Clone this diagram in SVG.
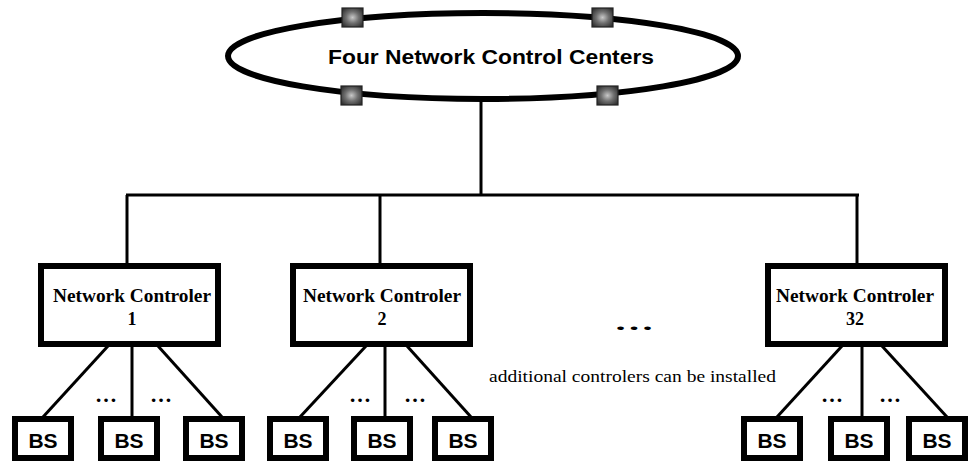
<svg xmlns="http://www.w3.org/2000/svg" width="968" height="461" viewBox="0 0 968 461">
<defs>
<radialGradient id="sq" cx="50%" cy="50%" r="60%">
<stop offset="0" stop-color="#c8c8c8"/>
<stop offset="0.5" stop-color="#707070"/>
<stop offset="1" stop-color="#333333"/>
</radialGradient>
</defs>
<style>
.thick{fill:#fff;stroke:#000;stroke-width:6}
.ln{stroke:#000;stroke-width:3;fill:none}
.port{fill:url(#sq);stroke:#222;stroke-width:1.2}
.title{font-family:"Liberation Sans",Arial,sans-serif;font-weight:bold;font-size:20px;fill:#000}
.nc{font-family:"Liberation Serif","Times New Roman",serif;font-weight:bold;font-size:18px;fill:#000}
.bs{font-family:"Liberation Sans",Arial,sans-serif;font-weight:bold;font-size:21px;fill:#000}
.dots{font-family:"Liberation Serif","Times New Roman",serif;font-weight:bold;font-size:22px;fill:#000}
.note{font-family:"Liberation Serif","Times New Roman",serif;font-size:16px;fill:#000}
</style>
<rect width="968" height="461" fill="#fff"/>

<g id="connectors">
<line class="ln" x1="481" y1="99" x2="481" y2="196"/>
<line class="ln" x1="126" y1="195" x2="859" y2="195"/>
<line class="ln" x1="127" y1="195" x2="127" y2="264"/>
<line class="ln" x1="380" y1="195" x2="380" y2="264"/>
<line class="ln" x1="857" y1="195" x2="857" y2="264"/>
<line class="ln" x1="108" y1="346" x2="43" y2="417"/>
<line class="ln" x1="132" y1="346" x2="132" y2="417"/>
<line class="ln" x1="158" y1="346" x2="222" y2="417"/>
<line class="ln" x1="366" y1="346" x2="300" y2="417"/>
<line class="ln" x1="385" y1="346" x2="385" y2="417"/>
<line class="ln" x1="407" y1="346" x2="471" y2="417"/>
<line class="ln" x1="842" y1="346" x2="777" y2="417"/>
<line class="ln" x1="862" y1="346" x2="862" y2="417"/>
<line class="ln" x1="882" y1="346" x2="947" y2="417"/>
</g>

<g id="ncc">
<ellipse cx="483" cy="56" rx="255" ry="43" fill="none" stroke="#000" stroke-width="6"/>
<rect class="port" x="342" y="8" width="21" height="19"/>
<rect class="port" x="592" y="8" width="21" height="19"/>
<rect class="port" x="341" y="86" width="21" height="19"/>
<rect class="port" x="597" y="86" width="21" height="19"/>
<text class="title" x="491" y="64" text-anchor="middle" textLength="326" lengthAdjust="spacingAndGlyphs">Four Network Control Centers</text>
</g>

<g id="nc1">
<rect class="thick" x="41" y="266" width="177" height="78"/>
<text class="nc" x="132" y="302" text-anchor="middle" textLength="158" lengthAdjust="spacingAndGlyphs">Network Controler</text>
<text class="nc" x="132" y="325" text-anchor="middle">1</text>
</g>
<g id="nc2">
<rect class="thick" x="293" y="266" width="177" height="78"/>
<text class="nc" x="382" y="302" text-anchor="middle" textLength="158" lengthAdjust="spacingAndGlyphs">Network Controler</text>
<text class="nc" x="382" y="325" text-anchor="middle">2</text>
</g>
<g id="nc32">
<rect class="thick" x="768" y="266" width="177" height="78"/>
<text class="nc" x="855" y="302" text-anchor="middle" textLength="158" lengthAdjust="spacingAndGlyphs">Network Controler</text>
<text class="nc" x="855" y="325" text-anchor="middle">32</text>
</g>

<g id="bs1a"><rect class="thick" x="15" y="419" width="56" height="39"/><text class="bs" x="43" y="448" text-anchor="middle">BS</text></g>
<g id="bs1b"><rect class="thick" x="101" y="419" width="56" height="39"/><text class="bs" x="129" y="448" text-anchor="middle">BS</text></g>
<g id="bs1c"><rect class="thick" x="186" y="419" width="56" height="39"/><text class="bs" x="214" y="448" text-anchor="middle">BS</text></g>
<g id="bs2a"><rect class="thick" x="270" y="419" width="56" height="39"/><text class="bs" x="298" y="448" text-anchor="middle">BS</text></g>
<g id="bs2b"><rect class="thick" x="354" y="419" width="56" height="39"/><text class="bs" x="382" y="448" text-anchor="middle">BS</text></g>
<g id="bs2c"><rect class="thick" x="435" y="419" width="56" height="39"/><text class="bs" x="463" y="448" text-anchor="middle">BS</text></g>
<g id="bs3a"><rect class="thick" x="744" y="419" width="56" height="39"/><text class="bs" x="772" y="448" text-anchor="middle">BS</text></g>
<g id="bs3b"><rect class="thick" x="831" y="419" width="56" height="39"/><text class="bs" x="859" y="448" text-anchor="middle">BS</text></g>
<g id="bs3c"><rect class="thick" x="909" y="419" width="56" height="39"/><text class="bs" x="937" y="448" text-anchor="middle">BS</text></g>

<g id="labels">
<text class="dots" x="106" y="402" text-anchor="middle">…</text>
<text class="dots" x="161" y="402" text-anchor="middle">…</text>
<text class="dots" x="360" y="402" text-anchor="middle">…</text>
<text class="dots" x="415" y="402" text-anchor="middle">…</text>
<text class="dots" x="832" y="402" text-anchor="middle">…</text>
<text class="dots" x="890" y="402" text-anchor="middle">…</text>
<text class="dots" x="634" y="330" text-anchor="middle" textLength="40" lengthAdjust="spacingAndGlyphs">…</text>
<text class="note" x="489" y="382" textLength="287" lengthAdjust="spacingAndGlyphs">additional controlers can be installed</text>
</g>
</svg>
